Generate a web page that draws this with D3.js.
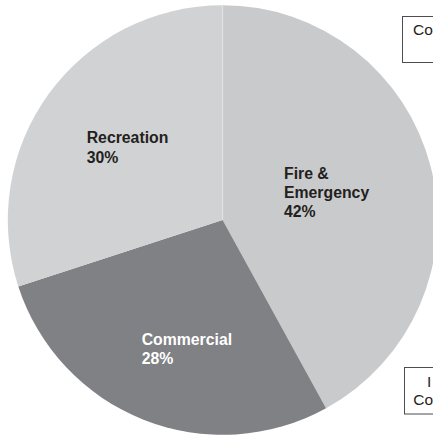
<!DOCTYPE html>
<html>
<head>
<meta charset="utf-8">
<script src="https://cdn.jsdelivr.net/npm/d3@7"></script>
<style>
  html, body { margin: 0; padding: 0; background: #ffffff; overflow: hidden; }
  svg { display: block; }
  text { font-family: "Liberation Sans", Arial, Helvetica, sans-serif; }
</style>
</head>
<body>
<svg id="chart" width="433" height="436"></svg>
<script>
// Share of calls by category
const categories = ["Fire &\nEmergency", "Commercial", "Recreation"];
const shares = [42, 28, 30];
const sliceColors = ["#c9cacc", "#808184", "#d1d2d4"];
const labelColors = ["#231f20", "#ffffff", "#231f20"];

// Callout boxes along the right edge (partly outside the view)
const calloutLines = [["Co"], ["I", "Co"]];

const svg = d3.select("#chart");
const cx = 222.6, cy = 220, radius = 214.8;

const g = svg.append("g").attr("transform", `translate(${cx},${cy})`);

const pie = d3.pie().sort(null).value(d => d)(shares);
const arc = d3.arc().innerRadius(0).outerRadius(radius);

g.selectAll("path.slice")
  .data(pie)
  .join("path")
  .attr("class", "slice")
  .attr("d", arc)
  .attr("fill", (d, i) => sliceColors[i]);

// faint seam where the first slice starts
const a0 = pie[0].startAngle;
g.append("line")
  .attr("x1", 0).attr("y1", 0)
  .attr("x2", radius * Math.sin(a0)).attr("y2", -radius * Math.cos(a0))
  .attr("stroke", "#e2e2e3").attr("stroke-width", 1);

// Slice labels: name lines + percentage
const labelPos = [[284, 178.7], [141.7, 345], [86.7, 143.3]];
const lineH = 19.3;
pie.forEach((d, i) => {
  const lines = categories[i].split("\n").concat([d3.format("d")(shares[i]) + "%"]);
  const t = svg.append("text")
    .attr("x", labelPos[i][0])
    .attr("y", labelPos[i][1])
    .attr("fill", labelColors[i])
    .attr("font-size", "15.8px")
    .attr("font-weight", "bold");
  lines.forEach((ln, k) => {
    t.append("tspan").attr("x", labelPos[i][0]).attr("dy", k === 0 ? 0 : lineH).text(ln);
  });
});

// Callout boxes
const boxes = [
  { x: 402.5, y: 16.5, h: 46, textX: [413], textY: [35] },
  { x: 404.5, y: 367.5, h: 46.5, textX: [427, 413.3], textY: [386.7, 404.5] }
];
boxes.forEach((b, i) => {
  svg.append("rect")
    .attr("x", b.x).attr("y", b.y)
    .attr("width", 80).attr("height", b.h)
    .attr("fill", "#ffffff")
    .attr("stroke", "#4d4d4f").attr("stroke-width", 1);
  calloutLines[i].forEach((ln, k) => {
    svg.append("text")
      .attr("x", b.textX[k]).attr("y", b.textY[k])
      .attr("fill", "#231f20")
      .attr("font-size", "15.5px")
      .text(ln);
  });
});
</script>
</body>
</html>
